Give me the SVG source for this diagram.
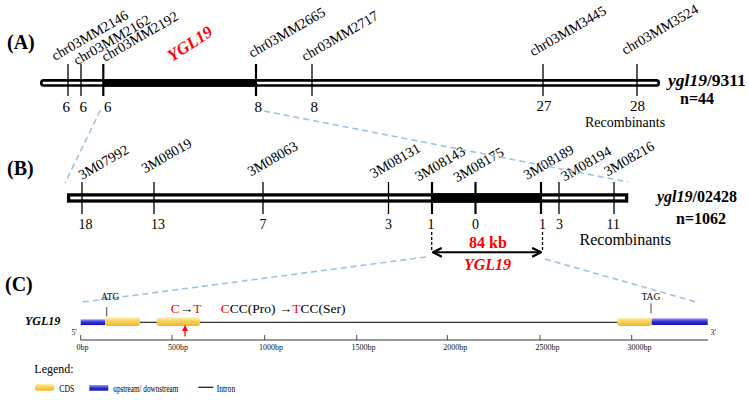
<svg xmlns="http://www.w3.org/2000/svg" width="749" height="400" viewBox="0 0 749 400">
<style>
text{font-family:"Liberation Serif","Times New Roman",serif;fill:#000}
.lab{font-size:14.2px}
.num{font-size:14px}
.numA{font-size:15px}
.pl{font-size:20px;font-weight:bold}
.red{fill:#ff0000}
.tk{stroke:#000;stroke-width:1.3}
.tkb{stroke:#000;stroke-width:2.2}
.dash{stroke:#9dc3e6;stroke-width:1.6;stroke-dasharray:6 4;fill:none}
.sm{font-size:8px;fill:#111}
</style>
<defs>
<linearGradient id="cds" x1="0" y1="0" x2="0" y2="1">
<stop offset="0" stop-color="#ffeeb0"/><stop offset="0.45" stop-color="#fad158"/><stop offset="1" stop-color="#f2b52a"/>
</linearGradient>
<linearGradient id="utr" x1="0" y1="0" x2="0" y2="1">
<stop offset="0" stop-color="#9c9cf2"/><stop offset="0.5" stop-color="#3030d0"/><stop offset="1" stop-color="#1414b4"/>
</linearGradient>
<marker id="chev" viewBox="0 0 10 10" refX="9" refY="5" markerWidth="11" markerHeight="11" markerUnits="userSpaceOnUse" orient="auto-start-reverse">
<path d="M1,1 L9,5 L1,9" fill="none" stroke="#000" stroke-width="2"/>
</marker>
<marker id="redh" viewBox="0 0 10 10" refX="5" refY="5" markerWidth="6" markerHeight="6" markerUnits="userSpaceOnUse" orient="auto">
<path d="M0,0 L10,5 L0,10 Z" fill="#ff0000"/>
</marker>
</defs>

<g id="panelA">
<text class="pl" x="7" y="49">(A)</text>
<rect x="41.3" y="80.3" width="617.5" height="5.2" rx="2.5" fill="#fff" stroke="#000" stroke-width="2.7"/>
<rect x="103" y="79" width="153" height="7.7" fill="#000"/>
<line class="tk" x1="68" y1="64" x2="68" y2="96"/>
<line class="tk" x1="81" y1="64" x2="81" y2="96"/>
<line class="tkb" x1="103.3" y1="64" x2="103.3" y2="96"/>
<line class="tkb" x1="256" y1="64" x2="256" y2="96"/>
<line class="tk" x1="312" y1="64" x2="312" y2="96"/>
<line class="tk" x1="543" y1="64" x2="543" y2="96"/>
<line class="tk" x1="637" y1="64" x2="637" y2="96"/>
<text class="lab" transform="translate(55,61) rotate(-30)">chr03MM2146</text>
<text class="lab" transform="translate(77,65.5) rotate(-30)">chr03MM2162</text>
<text class="lab" transform="translate(105,62) rotate(-30)">chr03MM2192</text>
<text class="lab" transform="translate(252,58) rotate(-30)">chr03MM2665</text>
<text class="lab" transform="translate(305,61.5) rotate(-30)">chr03MM2717</text>
<text class="lab" transform="translate(533,56.5) rotate(-30)">chr03MM3445</text>
<text class="lab" transform="translate(625,55) rotate(-30)">chr03MM3524</text>
<text transform="translate(172,62) rotate(-33)" font-size="17" font-weight="bold" font-style="italic" class="red">YGL19</text>
<text class="numA" x="62.5" y="111.5">6</text>
<text class="numA" x="79.5" y="111.5">6</text>
<text class="numA" x="104" y="111.5">6</text>
<text class="numA" x="254.5" y="111.5">8</text>
<text class="numA" x="310.5" y="111.5">8</text>
<text class="numA" x="536.5" y="111">27</text>
<text class="numA" x="630" y="111">28</text>
<text x="585" y="126.5" font-size="14">Recombinants</text>
<text x="668" y="86" font-size="17.5" font-weight="bold"><tspan font-style="italic">ygl19</tspan>/9311</text>
<text x="680" y="104" font-size="16" font-weight="bold">n=44</text>
</g>

<g id="panelB">
<text class="pl" x="7" y="175">(B)</text>
<rect x="68.6" y="194.9" width="558" height="6.1" fill="#fff" stroke="#000" stroke-width="3.3"/>
<rect x="432" y="193.3" width="109" height="9.4" fill="#000"/>
<line class="tk" x1="82" y1="182" x2="82" y2="214"/>
<line class="tk" x1="154" y1="182" x2="154" y2="214"/>
<line class="tk" x1="263" y1="182" x2="263" y2="214"/>
<line class="tk" x1="388.5" y1="182" x2="388.5" y2="214"/>
<line class="tkb" x1="432" y1="182" x2="432" y2="214"/>
<line class="tkb" x1="475.5" y1="182" x2="475.5" y2="214"/>
<line class="tkb" x1="541" y1="182" x2="541" y2="214"/>
<line class="tk" x1="559" y1="182" x2="559" y2="214"/>
<line class="tk" x1="614" y1="182" x2="614" y2="214"/>
<text class="lab" transform="translate(82,180) rotate(-30)">3M07992</text>
<text class="lab" transform="translate(145,173.5) rotate(-30)">3M08019</text>
<text class="lab" transform="translate(251,176.5) rotate(-30)">3M08063</text>
<text class="lab" transform="translate(373.5,178.5) rotate(-30)">3M08131</text>
<text class="lab" transform="translate(418.5,181.5) rotate(-30)">3M08143</text>
<text class="lab" transform="translate(457,182.5) rotate(-30)">3M08175</text>
<text class="lab" transform="translate(527,180) rotate(-30)">3M08189</text>
<text class="lab" transform="translate(564.5,181.5) rotate(-30)">3M08194</text>
<text class="lab" transform="translate(607.5,176.5) rotate(-30)">3M08216</text>
<text class="num" x="78.5" y="229">18</text>
<text class="num" x="151" y="229">13</text>
<text class="num" x="259.5" y="229">7</text>
<text class="num" x="385" y="229">3</text>
<text class="num" x="427.5" y="229">1</text>
<text class="num" x="472" y="229">0</text>
<text class="num" x="539" y="229">1</text>
<text class="num" x="556" y="229">3</text>
<text class="num" x="606.5" y="228.5">11</text>
<text x="579.5" y="244.5" font-size="16">Recombinants</text>
<text x="657" y="202" font-size="16" font-weight="bold"><tspan font-style="italic">ygl19</tspan>/02428</text>
<text x="676" y="224" font-size="16" font-weight="bold">n=1062</text>
<line x1="431.7" y1="232" x2="431.7" y2="251" stroke="#000" stroke-width="1.3" stroke-dasharray="3 2"/>
<line x1="542.5" y1="232" x2="542.5" y2="251" stroke="#000" stroke-width="1.3" stroke-dasharray="3 2"/>
<line x1="433" y1="252.3" x2="541" y2="252.3" stroke="#000" stroke-width="2" marker-start="url(#chev)" marker-end="url(#chev)"/>
<text x="488" y="248.3" font-size="16" font-weight="bold" text-anchor="middle" class="red">84 kb</text>
<text x="487.5" y="270" font-size="16" font-weight="bold" font-style="italic" text-anchor="middle" class="red">YGL19</text>
</g>

<g id="connectors">
<line class="dash" x1="100.5" y1="110" x2="65" y2="183"/>
<line class="dash" x1="264" y1="111" x2="628" y2="182"/>
<line class="dash" x1="426" y1="257" x2="83" y2="302"/>
<line class="dash" x1="545" y1="259" x2="698" y2="302.5"/>
</g>

<g id="panelC">
<text class="pl" x="5" y="290.5">(C)</text>
<text x="25" y="325" font-size="12" font-weight="bold" font-style="italic">YGL19</text>
<line x1="140" y1="322.3" x2="617.5" y2="322.3" stroke="#333" stroke-width="1.2"/>
<rect x="80.7" y="319.3" width="24.3" height="5.8" fill="url(#utr)"/>
<rect x="105" y="317.3" width="35" height="8.7" rx="3" fill="url(#cds)"/>
<rect x="156.7" y="317.3" width="43.3" height="8.7" rx="3" fill="url(#cds)"/>
<rect x="617.3" y="317.7" width="34.4" height="8.3" rx="3" fill="url(#cds)"/>
<rect x="651.7" y="318.3" width="56" height="6.7" fill="url(#utr)"/>
<text x="101" y="300" font-size="9.5">ATG</text>
<line x1="106.7" y1="307" x2="106.7" y2="316.7" stroke="#333" stroke-width="0.9"/>
<text x="641.5" y="300" font-size="9.5">TAG</text>
<line x1="651" y1="303.3" x2="651" y2="313.3" stroke="#333" stroke-width="0.9"/>
<text x="71.5" y="335" class="sm">5'</text>
<text x="710.5" y="335" class="sm">3'</text>
<text x="170.7" y="313.3" font-size="13.5"><tspan class="red">C</tspan>→<tspan class="red">T</tspan></text>
<text x="220.7" y="313.3" font-size="13.5"><tspan class="red">C</tspan>CC(Pro) →<tspan class="red">T</tspan>CC(Ser)</text>
<line x1="185" y1="336.5" x2="185" y2="328" stroke="#ff0000" stroke-width="1.3" marker-end="url(#redh)"/>
<line x1="80.7" y1="340" x2="707.7" y2="340" stroke="#333" stroke-width="1.2"/>
<g stroke="#333" stroke-width="0.9">
<line x1="80.7" y1="335" x2="80.7" y2="340"/>
<line x1="172" y1="335" x2="172" y2="340"/>
<line x1="264.7" y1="335" x2="264.7" y2="340"/>
<line x1="356.7" y1="335" x2="356.7" y2="340"/>
<line x1="447.3" y1="335" x2="447.3" y2="340"/>
<line x1="540" y1="335" x2="540" y2="340"/>
<line x1="631.7" y1="335" x2="631.7" y2="340"/>
</g>
<text class="sm" x="76.5" y="350">0bp</text>
<text class="sm" x="168" y="350">500bp</text>
<text class="sm" x="259" y="350">1000bp</text>
<text class="sm" x="351.5" y="350">1500bp</text>
<text class="sm" x="443.3" y="350">2000bp</text>
<text class="sm" x="535.5" y="350">2500bp</text>
<text class="sm" x="627.5" y="350">3000bp</text>
<text x="34.3" y="372.7" font-size="12">Legend:</text>
<rect x="35" y="384" width="19.3" height="6.7" rx="2.5" fill="url(#cds)"/>
<text x="59.3" y="391.7" font-size="10" fill="#111" textLength="15" lengthAdjust="spacingAndGlyphs">CDS</text>
<rect x="89.3" y="385" width="19" height="5.7" fill="url(#utr)"/>
<text x="113.3" y="391.7" font-size="10" fill="#111" textLength="65" lengthAdjust="spacingAndGlyphs">upstream/ downstream</text>
<line x1="198.3" y1="387.3" x2="213.3" y2="387.3" stroke="#222" stroke-width="1.3"/>
<text x="216.7" y="391.7" font-size="10" fill="#111" textLength="18.5" lengthAdjust="spacingAndGlyphs">Intron</text>
</g>
</svg>
